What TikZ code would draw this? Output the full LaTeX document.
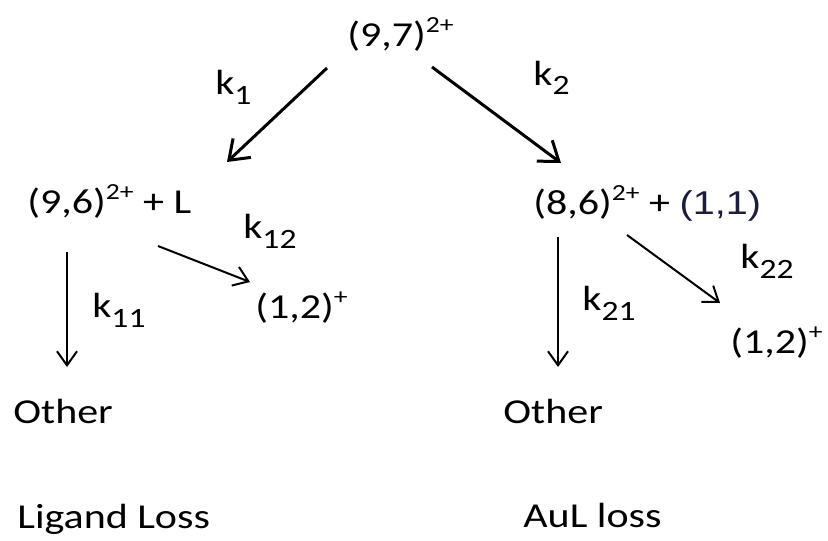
\documentclass[tikz,border=0pt]{standalone}
\usepackage{fontspec}
\setmainfont{Carlito}[FakeStretch=1.2]
\newfontfamily\arialfont{Liberation Sans}[FakeStretch=1.2]
\usepackage{xcolor}
\usetikzlibrary{arrows.meta}
\definecolor{ink}{RGB}{28,28,60}
\newcommand{\chg}[1]{\raisebox{7pt}{\fontsize{11.5}{12}\selectfont #1}}
\newcommand{\rk}[1]{k\raisebox{-5pt}{\fontsize{14}{14}\selectfont #1}}

\begin{document}
\begin{tikzpicture}[x=0.5pt, y=-0.5pt,
  t/.style={anchor=base west, inner sep=0pt, font=\fontsize{17.5}{21}\selectfont},
  bigarr/.style={-{Straight Barb[length=9pt, width=13pt]}, line width=1.5pt},
  smarr/.style={-{Straight Barb[length=7pt, width=10pt]}, line width=1pt}]
  \useasboundingbox (0,0) rectangle (828,540);
  % species
  \node[t] (top) at (347,47) {(9,7)\chg{2+}};
  \node[t] (lig) at (27,213) {(9,6)\chg{2+} + L};
  \node[t] (aul) at (533,214) {(8,6)\chg{2+} + {\arialfont\fontsize{16.5}{18}\selectfont\color{ink}(1,1)}};
  \node[t] (oth1) at (13,423) {Other};
  \node[t] (prd1) at (255,318) {(1,2)\chg{+}};
  \node[t] (oth2) at (503,423) {Other};
  \node[t] (prd2) at (730,353) {(1,2)\chg{+}};
  \node[t] (cap1) at (17,528) {Ligand Loss};
  \node[t] (cap2) at (523,527) {AuL loss};
  % rate constants
  \node[t] (k1) at (215,95) {\rk{1}};
  \node[t] (k2) at (533,85) {\rk{2}};
  \node[t] (k12) at (243,238) {\rk{12}};
  \node[t] (k11) at (92,317) {\rk{11}};
  \node[t] (k21) at (582,310) {\rk{21}};
  \node[t] (k22) at (740,268) {\rk{22}};
  % arrow ends
  \coordinate (topL) at (327,68);
  \coordinate (topR) at (432,67);
  \coordinate (ligN) at (227,162);
  \coordinate (aulN) at (561,163);
  \coordinate (ligS) at (67,252);
  \coordinate (ligE) at (158,246);
  \coordinate (oth1N) at (67,367);
  \coordinate (prd1W) at (250,282);
  \coordinate (aulS) at (558,237);
  \coordinate (aulE) at (627,235);
  \coordinate (oth2N) at (558,367);
  \coordinate (prd2N) at (720,303);
  \draw[bigarr] (topL) -- (ligN);
  \draw[bigarr] (topR) -- (aulN);
  \draw[smarr] (ligS) -- (oth1N);
  \draw[smarr] (ligE) -- (prd1W);
  \draw[smarr] (aulS) -- (oth2N);
  \draw[smarr] (aulE) -- (prd2N);
\end{tikzpicture}
\end{document}
